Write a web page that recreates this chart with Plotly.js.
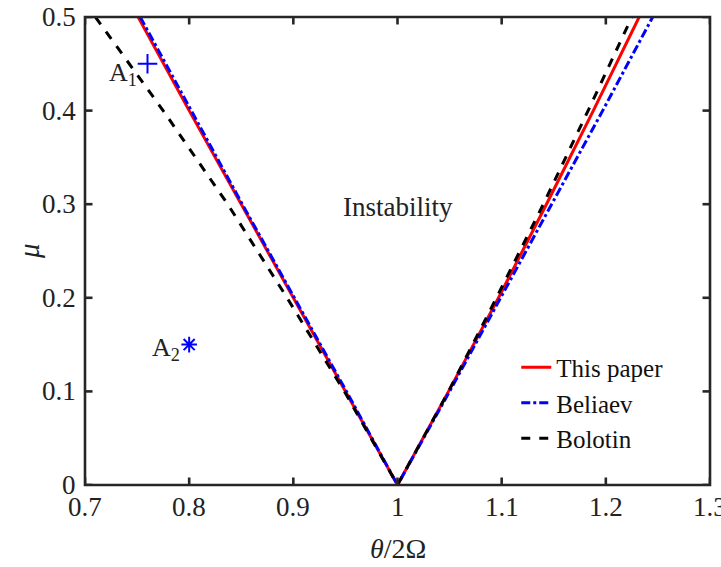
<!DOCTYPE html>
<html>
<head>
<meta charset="utf-8">
<script src="https://cdn.plot.ly/plotly-3.0.1.min.js"></script>
<style>html,body{margin:0;padding:0;background:#fff;}#chart{width:721px;height:567px;}</style>
</head>
<body>
<div id="chart"></div>
<script>
// mu values (y) and frequency ratio theta/2Omega (x) for each boundary
const mu = [0.5, 0.4, 0.3, 0.2, 0.1, 0.0, 0.1, 0.2, 0.3, 0.4, 0.5];
const thisPaperX = [0.751, 0.800, 0.850, 0.900, 0.950, 1.000, 1.049, 1.097, 1.143, 1.188, 1.232];
const beliaevX   = [0.753, 0.802, 0.851, 0.901, 0.951, 1.000, 1.050, 1.099, 1.148, 1.197, 1.245];
const bolotinX   = [0.710, 0.775, 0.837, 0.894, 0.949, 1.000, 1.049, 1.095, 1.140, 1.183, 1.225];
const seriesNames = ["This paper", "Beliaev", "Bolotin"];
const pointA1 = {x: 0.76, y: 0.45, label: "A<sub>1</sub>"};
const pointA2 = {x: 0.80, y: 0.15, label: "A<sub>2</sub>"};
const regionLabel = {x: 1.0, y: 0.297, text: "Instability"};
const xTicks = [0.7, 0.8, 0.9, 1, 1.1, 1.2, 1.3];
const xTickLabels = ["0.7", "0.8", "0.9", "1", "1.1", "1.2", "1.3"];
const yTicks = [0, 0.1, 0.2, 0.3, 0.4, 0.5];
const yTickLabels = ["0", "0.1", "0.2", "0.3", "0.4", "0.5"];
const xTitle = "<i>θ</i>/2Ω";
const yTitle = "<i>μ</i>";

const serif = "Liberation Serif";
const ink = "#262626";
const traces = [
  {x: thisPaperX, y: mu, mode: "lines", name: seriesNames[0], line: {color: "#ff0000", width: 3}},
  {x: beliaevX, y: mu, mode: "lines", name: seriesNames[1], line: {color: "#0000ff", width: 3, dash: "dashdot"}},
  {x: bolotinX, y: mu, mode: "lines", name: seriesNames[2], line: {color: "#000000", width: 3, dash: "dash"}},
  {x: [pointA1.x], y: [pointA1.y], mode: "markers", showlegend: false,
   marker: {symbol: "cross-thin-open", size: 14, color: "#0000ff", line: {color: "#0000ff", width: 2}}},
  {x: [pointA2.x], y: [pointA2.y], mode: "markers", showlegend: false,
   marker: {symbol: "asterisk-open", size: 13, color: "#0000ff", line: {color: "#0000ff", width: 2}}}
];

// axis decorations built from the tick arrays (frame, inward ticks on all four sides, tick labels)
const shapes = [{type: "rect", xref: "paper", yref: "paper", x0: 0, x1: 1, y0: 0, y1: 1,
                 line: {color: ink, width: 2.6}, layer: "above"}];
const tickAnn = [];
xTicks.forEach(function(v, i){
  shapes.push({type: "line", xref: "x", yref: "paper", x0: v, x1: v, y0: 0, y1: 0.016, line: {color: ink, width: 2.6}, layer: "above"});
  shapes.push({type: "line", xref: "x", yref: "paper", x0: v, x1: v, y0: 1, y1: 0.984, line: {color: ink, width: 2.6}, layer: "above"});
  tickAnn.push({x: v, xref: "x", y: 0, yref: "paper", yanchor: "top", yshift: -5, text: xTickLabels[i], showarrow: false,
                font: {family: serif, size: 27, color: "#222222"}});
});
yTicks.forEach(function(v, i){
  shapes.push({type: "line", xref: "paper", yref: "y", x0: 0, x1: 0.012, y0: v, y1: v, line: {color: ink, width: 2.6}, layer: "above"});
  shapes.push({type: "line", xref: "paper", yref: "y", x0: 1, x1: 0.988, y0: v, y1: v, line: {color: ink, width: 2.6}, layer: "above"});
  tickAnn.push({x: 0, xref: "paper", y: v, yref: "y", xanchor: "right", xshift: -7, text: yTickLabels[i], showarrow: false,
                font: {family: serif, size: 27, color: "#222222"}});
});

const layout = {
  width: 721, height: 567,
  margin: {l: 85, r: 11, t: 17, b: 82},
  paper_bgcolor: "#ffffff", plot_bgcolor: "#ffffff",
  showlegend: true,
  legend: {x: 0.69, y: 0.05, xanchor: "left", yanchor: "bottom", bgcolor: "rgba(255,255,255,0)",
           font: {family: serif, size: 25, color: "#111111"}, tracegroupgap: 0},
  xaxis: {range: [0.7, 1.3], showgrid: false, zeroline: false, showline: false, ticks: "", showticklabels: false, fixedrange: true},
  yaxis: {range: [0, 0.5], showgrid: false, zeroline: false, showline: false, ticks: "", showticklabels: false, fixedrange: true},
  shapes: shapes,
  annotations: tickAnn.concat([
    {x: 0.5, xref: "paper", y: 0, yref: "paper", yanchor: "middle", yshift: -63, text: xTitle, showarrow: false,
     font: {family: serif, size: 28, color: "#222222"}},
    {x: 0, xref: "paper", y: 0.5, yref: "paper", xanchor: "center", xshift: -56, textangle: -90, text: yTitle, showarrow: false,
     font: {family: serif, size: 29, color: "#222222"}},
    {x: pointA1.x, y: pointA1.y, text: pointA1.label, showarrow: false, xanchor: "right", yanchor: "middle", xshift: -9, yshift: -10,
     font: {family: serif, size: 26, color: "#222222"}},
    {x: pointA2.x, y: pointA2.y, text: pointA2.label, showarrow: false, xanchor: "right", yanchor: "middle", xshift: -7, yshift: -4,
     font: {family: serif, size: 26, color: "#222222"}},
    {x: regionLabel.x, y: regionLabel.y, text: regionLabel.text, showarrow: false,
     font: {family: serif, size: 27, color: "#222222"}}
  ])
};
Plotly.newPlot("chart", traces, layout, {displayModeBar: false});
</script>
</body>
</html>
